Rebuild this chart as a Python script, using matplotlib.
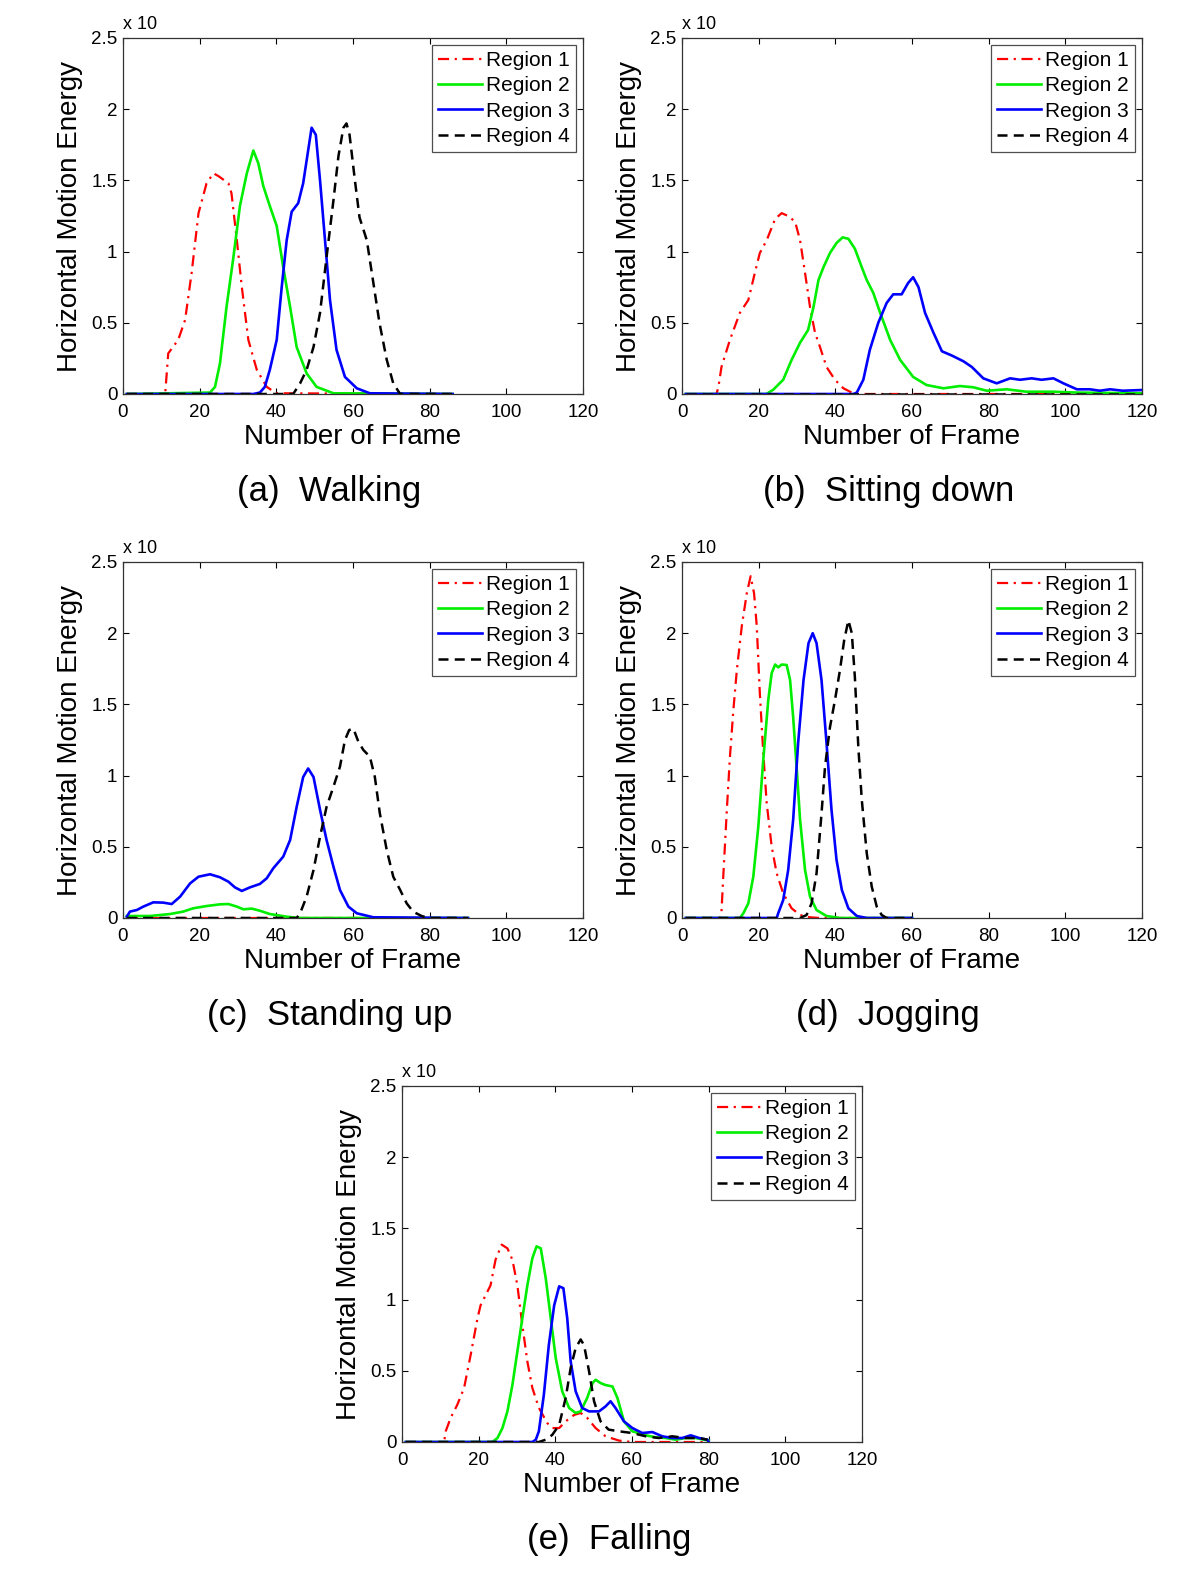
import matplotlib
matplotlib.use("Agg")
import matplotlib.pyplot as plt

plt.rcParams['font.family'] = ['Liberation Sans', 'DejaVu Sans']

labels = ['Region 1', 'Region 2', 'Region 3', 'Region 4']
captions = ['(a)  Walking', '(b)  Sitting down', '(c)  Standing up', '(d)  Jogging', '(e)  Falling']

# (a) Walking
walk_r1_x = [1, 11, 11.8, 14.4, 16.2, 17.9, 19.7, 21.8, 23.6, 24.9, 27.5, 28.3, 29.7, 31, 32.7, 34.9, 37.5, 40, 86]
walk_r1_y = [0, 0, 0.285, 0.38, 0.52, 0.85, 1.27, 1.48, 1.55, 1.53, 1.48, 1.41, 1.08, 0.75, 0.38, 0.17, 0.05, 0.005, 0]
walk_r2_x = [1, 22.7, 24, 25.3, 27, 28.8, 30.5, 32.3, 34, 35.3, 36.6, 38.3, 40.1, 41.8, 43.6, 45.3, 47.9, 50.5, 54.9, 86]
walk_r2_y = [0, 0.01, 0.05, 0.215, 0.61, 0.96, 1.32, 1.55, 1.71, 1.62, 1.46, 1.32, 1.18, 0.89, 0.61, 0.33, 0.145, 0.05, 0.005, 0]
walk_r3_x = [1, 34, 35.7, 37, 38.3, 40.1, 41.4, 42.7, 44, 45.7, 47, 48.3, 49.2, 50.3, 51.4, 52.7, 54, 55.7, 57.9, 61, 64.4, 86]
walk_r3_y = [0, 0, 0.01, 0.05, 0.17, 0.38, 0.75, 1.08, 1.28, 1.34, 1.48, 1.71, 1.87, 1.82, 1.50, 1.08, 0.66, 0.31, 0.12, 0.04, 0.005, 0]
walk_r4_x = [1, 44.4, 46.2, 47.9, 49.7, 51.4, 53.1, 54.9, 56.2, 57.5, 58.3, 59.1, 60.5, 61.7, 63.6, 65.2, 66.9, 68.8, 70.5, 72.3, 86]
walk_r4_y = [0, 0, 0.075, 0.17, 0.33, 0.57, 0.96, 1.36, 1.67, 1.87, 1.90, 1.82, 1.50, 1.24, 1.08, 0.80, 0.50, 0.24, 0.075, 0, 0]

# (b) Sitting down
sit_r1_x = [1, 9, 9.5, 10.3, 12.5, 15.1, 17.3, 19, 20.3, 22.1, 24.3, 26, 27.7, 29.5, 30.8, 32.1, 33.4, 34.7, 36, 37.7, 39.9, 42.1, 44.3, 46, 120]
sit_r1_y = [0, 0, 0.05, 0.19, 0.38, 0.57, 0.66, 0.85, 0.99, 1.08, 1.23, 1.27, 1.25, 1.21, 1.08, 0.85, 0.61, 0.43, 0.33, 0.19, 0.10, 0.04, 0.01, 0, 0]
sit_r2_x = [1, 22, 23.8, 26.4, 28.6, 30.8, 32.9, 34.3, 35.6, 36.9, 38.6, 40.3, 41.9, 43.4, 45.1, 46.9, 48.2, 49.9, 51.7, 54.3, 56.9, 60.3, 63.8, 68.2, 72.5, 76, 79.5, 84.7, 89.9, 96.9, 103, 120]
sit_r2_y = [0, 0, 0.03, 0.10, 0.24, 0.36, 0.45, 0.61, 0.80, 0.89, 0.99, 1.06, 1.10, 1.09, 1.02, 0.89, 0.80, 0.71, 0.57, 0.38, 0.24, 0.12, 0.063, 0.04, 0.056, 0.047, 0.023, 0.033, 0.016, 0.016, 0.01, 0.005]
sit_r3_x = [1, 44.7, 45.6, 47.3, 49, 51.2, 53.4, 55.1, 57.3, 59, 60.3, 61.7, 63.4, 65.6, 67.8, 70.4, 73.4, 75.6, 78.6, 82.1, 85.6, 88.2, 91.2, 93.8, 96.9, 99.5, 103, 106.4, 109, 111.7, 115, 120]
sit_r3_y = [0, 0, 0.01, 0.10, 0.31, 0.50, 0.64, 0.70, 0.70, 0.78, 0.82, 0.75, 0.57, 0.43, 0.30, 0.27, 0.23, 0.19, 0.11, 0.075, 0.11, 0.10, 0.11, 0.10, 0.11, 0.075, 0.033, 0.033, 0.023, 0.033, 0.023, 0.028]
sit_r4_x = [1, 120]
sit_r4_y = [0, 0]

# (c) Standing up
stand_r1_x = [1, 90]
stand_r1_y = [0, 0]
stand_r2_x = [1, 7, 12.3, 15.7, 18.3, 21.8, 25.3, 27.5, 29.7, 31.4, 33.6, 35.7, 38.3, 42.7, 46, 90]
stand_r2_y = [0.014, 0.014, 0.028, 0.045, 0.068, 0.084, 0.096, 0.098, 0.08, 0.061, 0.066, 0.051, 0.028, 0.009, 0, 0]
stand_r3_x = [1, 1.8, 3.6, 5.3, 7.9, 10.5, 12.7, 14.9, 17.5, 19.7, 22.7, 25.3, 27.5, 29.2, 31, 33.1, 35.7, 37.5, 39.2, 41.8, 43.6, 45.3, 47, 48.3, 49.7, 51.4, 53.1, 54.9, 56.6, 58.8, 61, 65.3, 90]
stand_r3_y = [0.01, 0.045, 0.056, 0.08, 0.11, 0.108, 0.098, 0.15, 0.243, 0.29, 0.307, 0.286, 0.255, 0.215, 0.19, 0.215, 0.239, 0.279, 0.349, 0.431, 0.548, 0.78, 0.99, 1.05, 0.99, 0.76, 0.548, 0.36, 0.197, 0.08, 0.033, 0.005, 0]
stand_r4_x = [1, 45.3, 46.2, 47.9, 49.7, 51.4, 53.1, 54.9, 56.6, 57.9, 59, 60.1, 61.4, 62.7, 64.4, 65.7, 67, 68.8, 70.5, 72.3, 74, 75.7, 77.9, 79.7, 90]
stand_r4_y = [0, 0, 0.033, 0.15, 0.337, 0.571, 0.78, 0.922, 1.063, 1.25, 1.32, 1.33, 1.238, 1.18, 1.133, 0.99, 0.735, 0.477, 0.29, 0.197, 0.103, 0.044, 0.014, 0, 0]

# (d) Jogging
jog_r1_x = [1, 9.9, 10.3, 10.8, 11.7, 12.5, 13.4, 14.3, 15.6, 16.9, 17.9, 18.8, 19.5, 20.3, 21.2, 22.1, 23.4, 24.7, 26.4, 28.6, 30.8, 33.4, 36, 60]
jog_r1_y = [0, 0, 0.044, 0.31, 0.76, 1.13, 1.46, 1.74, 2.05, 2.28, 2.40, 2.28, 2.05, 1.58, 1.16, 0.805, 0.50, 0.314, 0.173, 0.068, 0.021, 0.005, 0, 0]
jog_r2_x = [1, 15.1, 16, 17.3, 18.6, 19.9, 21.2, 22.5, 23.4, 24.3, 25.1, 26, 27.3, 28.2, 29, 29.9, 30.8, 32.1, 33.4, 35.1, 37.7, 41.2, 60]
jog_r2_y = [0, 0, 0.033, 0.103, 0.29, 0.64, 1.11, 1.53, 1.72, 1.78, 1.76, 1.78, 1.777, 1.67, 1.41, 1.06, 0.69, 0.337, 0.15, 0.056, 0.014, 0, 0]
jog_r3_x = [1, 24.7, 25.1, 26.4, 27.7, 29, 30.3, 31.7, 33, 34.1, 35.1, 36.4, 37.7, 39, 40.3, 41.7, 43.4, 45.6, 48.2, 60]
jog_r3_y = [0, 0, 0.033, 0.126, 0.337, 0.69, 1.23, 1.67, 1.93, 2.0, 1.93, 1.67, 1.23, 0.76, 0.41, 0.197, 0.068, 0.014, 0, 0]
jog_r4_x = [1, 30.8, 32.5, 33.8, 35.1, 36.4, 37.3, 38.6, 39.9, 41.2, 42.3, 43.4, 44.3, 45.1, 46, 46.9, 48.2, 49.5, 50.8, 52.1, 53.4, 60]
jog_r4_y = [0, 0, 0.021, 0.103, 0.314, 0.735, 1.06, 1.34, 1.53, 1.74, 1.95, 2.09, 2.0, 1.69, 1.20, 0.83, 0.454, 0.22, 0.08, 0.021, 0, 0]

# (e) Falling
fall_r1_x = [1, 11, 11.4, 12.7, 14.4, 16.2, 17.9, 19.7, 20.5, 21.8, 23.1, 24.4, 26, 27.5, 28.8, 30.1, 31.4, 32.7, 34, 35.7, 37.9, 39.2, 41, 42.7, 44.9, 46.6, 48.3, 50.5, 53.1, 56.6, 60, 80]
fall_r1_y = [0, 0, 0.075, 0.17, 0.26, 0.38, 0.61, 0.87, 0.96, 1.03, 1.10, 1.28, 1.386, 1.36, 1.28, 1.10, 0.82, 0.566, 0.38, 0.24, 0.133, 0.098, 0.098, 0.145, 0.19, 0.204, 0.17, 0.098, 0.04, 0.01, 0, 0]
fall_r2_x = [1, 23.6, 24.9, 26.2, 27.5, 28.8, 30.1, 31.4, 32.7, 34, 35.1, 36.2, 37.5, 38.8, 40.1, 41.8, 43.6, 45.3, 46.6, 48.3, 49.7, 50.5, 51.8, 53.1, 54.9, 56.2, 57.9, 60.1, 63.6, 66.2, 68.8, 71.4, 74, 76.6, 80]
fall_r2_y = [0, 0, 0.028, 0.098, 0.215, 0.40, 0.637, 0.87, 1.10, 1.29, 1.374, 1.36, 1.15, 0.87, 0.59, 0.356, 0.239, 0.204, 0.215, 0.309, 0.414, 0.437, 0.414, 0.40, 0.39, 0.309, 0.145, 0.075, 0.047, 0.033, 0.028, 0.016, 0.028, 0.028, 0.01]
fall_r3_x = [1, 34, 34.9, 35.7, 37, 38.3, 39.7, 41, 42.1, 43.1, 44, 45.3, 47, 48.8, 51.4, 53.1, 54.4, 55.7, 57.9, 60.1, 62.7, 65.3, 67.9, 70.5, 73.1, 75.3, 77.5, 79.7, 80]
fall_r3_y = [0, 0, 0.016, 0.075, 0.33, 0.68, 0.96, 1.093, 1.08, 0.87, 0.566, 0.356, 0.239, 0.215, 0.215, 0.25, 0.286, 0.239, 0.145, 0.098, 0.063, 0.07, 0.04, 0.028, 0.028, 0.047, 0.028, 0.016, 0]
fall_r4_x = [1, 35.7, 37.5, 39.2, 41, 42.7, 44, 45.3, 46.6, 47.5, 48.8, 50.1, 51.8, 53.9, 56.6, 60.1, 63.6, 67, 70.5, 74, 77.5, 79.7]
fall_r4_y = [0, 0, 0.016, 0.05, 0.12, 0.31, 0.52, 0.66, 0.72, 0.68, 0.496, 0.286, 0.145, 0.087, 0.075, 0.063, 0.04, 0.028, 0.04, 0.028, 0.028, 0.016]

panels = [
    [(walk_r1_x, walk_r1_y), (walk_r2_x, walk_r2_y), (walk_r3_x, walk_r3_y), (walk_r4_x, walk_r4_y)],
    [(sit_r1_x, sit_r1_y), (sit_r2_x, sit_r2_y), (sit_r3_x, sit_r3_y), (sit_r4_x, sit_r4_y)],
    [(stand_r1_x, stand_r1_y), (stand_r2_x, stand_r2_y), (stand_r3_x, stand_r3_y), (stand_r4_x, stand_r4_y)],
    [(jog_r1_x, jog_r1_y), (jog_r2_x, jog_r2_y), (jog_r3_x, jog_r3_y), (jog_r4_x, jog_r4_y)],
    [(fall_r1_x, fall_r1_y), (fall_r2_x, fall_r2_y), (fall_r3_x, fall_r3_y), (fall_r4_x, fall_r4_y)],
]

colors = ['#ff0000', '#00ee00', '#0000ff', '#000000']
styles = [(0, (5, 2.5, 1, 2.5)), '-', '-', (0, (4, 2.5))]
widths = [1.6, 1.9, 1.9, 1.8]

# axes boxes in pixels (left, top) of a 1200x1571 figure, all 460x356
boxes = [(123, 38), (682, 38), (123, 562), (682, 562), (402, 1086)]
cap_pos = [(329, 492), (889, 492), (330, 1016), (888, 1016), (609, 1540)]

W, H = 1200, 1571
fig = plt.figure(figsize=(12, 15.71), dpi=100)

for i, (series, (l, t)) in enumerate(zip(panels, boxes)):
    ax = fig.add_axes([l / W, 1 - (t + 356) / H, 460 / W, 356 / H])
    for (xs, ys), c, ls, lw, lab in zip(series, colors, styles, widths, labels):
        ax.plot(xs, ys, color=c, linestyle=ls, linewidth=lw, label=lab)
    ax.set_xlim(0, 120)
    ax.set_ylim(0, 2.5)
    ax.set_xticks([0, 20, 40, 60, 80, 100, 120])
    ax.set_yticks([0, 0.5, 1, 1.5, 2, 2.5])
    ax.set_yticklabels(['0', '0.5', '1', '1.5', '2', '2.5'])
    ax.tick_params(direction='in', length=4, width=0.8, top=True, right=True, labelsize=13.5)
    ax.tick_params(axis='x', pad=7)
    ax.tick_params(axis='y', pad=4)
    for sp in ax.spines.values():
        sp.set_linewidth(0.9)
        sp.set_color('#333333')
    ax.set_xlabel('Number of Frame', fontsize=20, labelpad=2)
    ax.set_ylabel('Horizontal Motion Energy', fontsize=20, labelpad=6)
    ax.text(0, 1.015, 'x 10', transform=ax.transAxes, fontsize=13, ha='left', va='bottom')
    leg = ax.legend(loc='upper right', fontsize=15, frameon=True, fancybox=False,
                    borderaxespad=0.33, handlelength=2.1, handletextpad=0.2,
                    labelspacing=0.3, borderpad=0.3)
    leg.get_frame().set_edgecolor('#222222')
    leg.get_frame().set_linewidth(0.9)
    cx, cy = cap_pos[i]
    fig.text(cx / W, 1 - cy / H, captions[i], fontsize=25, ha='center', va='center')

fig.savefig('out.png', dpi=100)
